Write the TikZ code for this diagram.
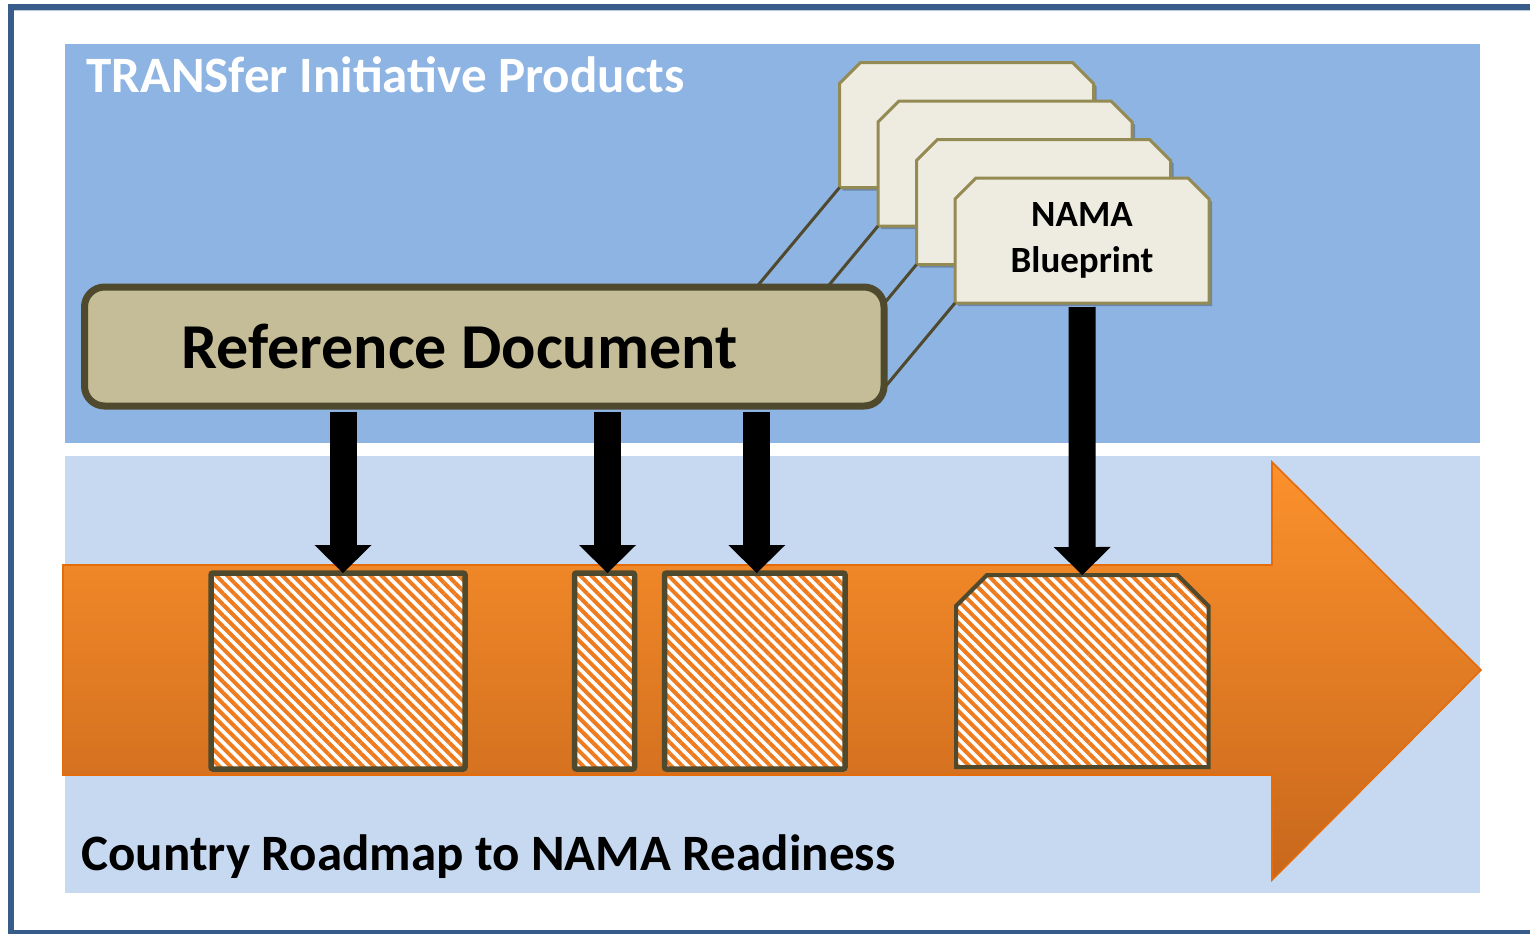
\documentclass[tikz,border=0pt]{standalone}
\usepackage{fontspec}
\setmainfont{Carlito}
\usetikzlibrary{arrows.meta,calc,patterns.meta,shadows}
\definecolor{frameblue}{HTML}{385D8A}
\definecolor{topblue}{HTML}{8EB4E3}
\definecolor{lowblue}{HTML}{C6D9F1}
\definecolor{orangetop}{HTML}{FC912C}
\definecolor{orangemid}{HTML}{EF8327}
\definecolor{orangebot}{HTML}{C8671C}
\definecolor{orangeline}{HTML}{E46C0A}
\definecolor{refdocfill}{HTML}{C4BD97}
\definecolor{olivedark}{HTML}{4F4A2E}
\definecolor{cardfill}{HTML}{EEECE1}
\definecolor{cardline}{HTML}{948A54}
\definecolor{hatchorange}{HTML}{EF7B1F}
\begin{document}
\begin{tikzpicture}[x=0.5pt,y=-0.5pt,
  hatchfill/.style={draw=olivedark, preaction={fill=white},
    pattern={Lines[angle=-45,distance=3.9pt,line width=2pt]}, pattern color=hatchorange},
  hatchbox/.style={hatchfill, line width=2.75pt, rounded corners=1pt, inner sep=0pt, outer sep=0pt},
  anchorbox/.style={rectangle, inner sep=0pt, outer sep=0pt},
  cardshape/.style={draw=cardline, fill=cardfill, line width=1.5pt, line join=miter,
    drop shadow={shadow xshift=1.5pt, shadow yshift=-1.5pt, opacity=0.25, fill=black}},
  linkline/.style={olivedark, line width=1.5pt},
  blockarrow/.style={black, line width=13.5pt, -{Triangle[width=28.5pt,length=14pt,line width=0pt]}},
  bigtext/.style={inner sep=0pt, font=\bfseries\fontsize{25.5}{30}\selectfont}
]
\useasboundingbox (0,0) rectangle (1530,933);
\clip (0,0) rectangle (1530,933);
\fill[white] (0,0) rectangle (1530,933);

% outer frame
\draw[frameblue!35, line width=0.75pt] (13,10.5) -- (1540,10.5);
\draw[frameblue, line width=2.75pt] (1540,7) -- (11,7) -- (11,933) -- (1540,933);

% panels
\fill[topblue] (65,44) rectangle (1480,443);
\fill[lowblue] (65,456) rectangle (1480,893);

% big orange arrow
\path[draw=orangeline, line width=0.8pt, top color=orangetop, middle color=orangemid, bottom color=orangebot]
  (63,565) -- (1272,565) -- (1272,462) -- (1481,670) -- (1272,880) -- (1272,775) -- (63,775) -- cycle;

% hatched boxes
\node[hatchbox, minimum width=127pt, minimum height=98pt] (b1) at (338,671) {};
\node[hatchbox, minimum width=30pt, minimum height=98pt] (b2) at (604.5,671) {};
\node[hatchbox, minimum width=90.25pt, minimum height=98pt] (b3) at (754.75,671) {};
\node[anchorbox, minimum width=126.25pt, minimum height=96pt] (b4) at (1082.25,671) {};
\path[hatchfill, line width=2pt, line join=miter]
  (b4.south west) -- ($(b4.north west)+(0,31)$) -- ($(b4.north west)+(31,0)$)
  -- ($(b4.north east)+(-31,0)$) -- ($(b4.north east)+(0,31)$) -- (b4.south east) -- cycle;

% stacked cards
\foreach \i in {0,1,2,3}{
  \node[anchorbox, minimum width=127pt, minimum height=62.5pt] (c\i) at ({966.5+38.5*\i},{125+38.5*\i}) {};
  \path[cardshape] (c\i.south west) -- ($(c\i.north west)+(0,21)$) -- ($(c\i.north west)+(21,0)$)
    -- ($(c\i.north east)+(-21,0)$) -- ($(c\i.north east)+(0,21)$) -- (c\i.south east) -- cycle;
}
\node[align=center, inner sep=0pt, font=\bfseries\fontsize{18.5}{23}\selectfont] (bptext) at (c3.center) {NAMA\\Blueprint};

% perspective lines
\draw[linkline] (c0.south west) -- ++(-110,132);
\draw[linkline] (c1.south west) -- ++(-78,94);
\draw[linkline] (c2.south west) -- ++(-46.5,56);
\draw[linkline] (c3.south west) -- ++(-80,96);

% reference document
\node[draw=olivedark, line width=3.5pt, fill=refdocfill, rounded corners=10pt,
  minimum width=399.75pt, minimum height=59.5pt, inner sep=0pt] (ref) at (484.25,346.5) {};
\node[anchor=base, inner sep=0pt, font=\bfseries\fontsize{32}{38}\selectfont] (reftext) at (459.5,368) {Reference Document};

% block arrows
\coordinate (t1) at ($(b1.north)+(5,0)$);
\coordinate (t2) at ($(b2.north)+(3,0)$);
\coordinate (t3) at ($(b3.north)+(2,0)$);
\draw[blockarrow] ($(ref.south -| t1)+(0,2)$) -- (t1);
\draw[blockarrow] ($(ref.south -| t2)+(0,2)$) -- (t2);
\draw[blockarrow] ($(ref.south -| t3)+(0,2)$) -- (t3);
\draw[blockarrow] ($(c3.south)+(0,4)$) -- (b4.north);

% labels
\node[bigtext, anchor=base west, white] (title) at (86,92) {TRANSfer Initiative Products};
\node[bigtext, anchor=base west] (road) at (81,870) {Country Roadmap to NAMA Readiness};
\end{tikzpicture}
\end{document}
